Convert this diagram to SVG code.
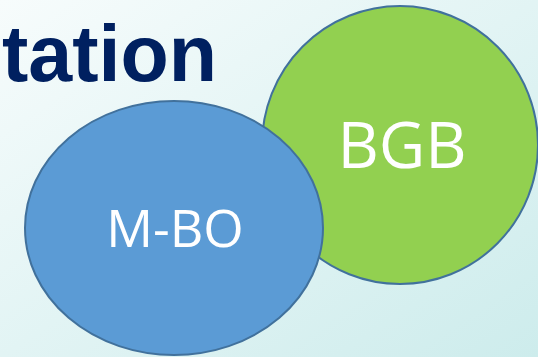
<svg xmlns="http://www.w3.org/2000/svg" width="538" height="357" viewBox="0 0 538 357">
  <defs>
    <linearGradient id="bg" x1="0" y1="0" x2="1" y2="1">
      <stop offset="0" stop-color="#F7FCFC"/>
      <stop offset="1" stop-color="#CDECEC"/>
    </linearGradient>
  </defs>
  <style>
    .title { font-family: "Liberation Sans", Arial, sans-serif; font-weight: bold; fill: #002060; }
    .node-shape { stroke: #41719C; stroke-width: 2; }
    .label { font-family: "Open Sans", "Noto Sans", sans-serif; fill: #FFFFFF; text-anchor: middle; }
  </style>

  <!-- slide background -->
  <rect width="538" height="357" fill="url(#bg)"/>

  <!-- slide title, running off the left edge -->
  <text class="title" x="217" y="81" font-size="79" text-anchor="end">ntation</text>

  <g id="node-bgb">
    <ellipse class="node-shape" cx="400" cy="145" rx="138" ry="139" fill="#92D050"/>
    <text class="label" x="402" y="168" font-size="64">BGB</text>
  </g>

  <g id="node-mbo">
    <ellipse class="node-shape" cx="174" cy="228" rx="149" ry="127" fill="#5B9BD5"/>
    <text class="label" x="175" y="247" font-size="52">M-BO</text>
  </g>

  <g id="connectors"/>
</svg>
